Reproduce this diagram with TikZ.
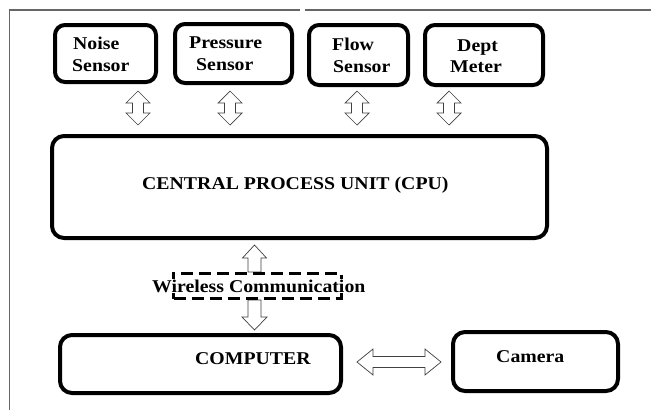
\documentclass[tikz,border=0pt]{standalone}
\usepackage{fontspec}
\setmainfont[FakeStretch=1.1]{Liberation Serif}
\usetikzlibrary{calc}
\begin{document}
\begin{tikzpicture}[x=1pt,y=-1pt,
  box/.style={draw=black, line width=4pt, rounded corners=11pt, inner sep=0pt, fill=white},
  dbox/.style={draw=black, line width=3pt, dash pattern=on 12pt off 6pt, inner sep=0pt},
  txt/.style={font=\fontsize{18}{21}\selectfont\bfseries, inner sep=0pt, anchor=base west},
  frame/.style={draw=black!60, line width=1.2pt},
  hollow/.style={draw=black!75, line width=0.7pt, fill=white},
  vdarrow/.style={hollow, to path={let \p1=(\tikztostart), \p2=(\tikztotarget) in
    (\x1,\y1) -- (\x1+12pt,\y1-12pt) -- (\x1+5.5pt,\y1-12pt) -- (\x1+5.5pt,\y2+12pt) -- (\x1+12pt,\y2+12pt)
    -- (\x1,\y2) -- (\x1-12pt,\y2+12pt) -- (\x1-5.5pt,\y2+12pt) -- (\x1-5.5pt,\y1-12pt) -- (\x1-12pt,\y1-12pt) -- cycle}},
  uparrow/.style={hollow, to path={let \p1=(\tikztostart), \p2=(\tikztotarget) in
    (\x1,\y1) -- (\x1+12pt,\y1-13pt) -- (\x1+6.5pt,\y1-13pt) -- (\x1+6.5pt,\y2) -- (\x1-6.5pt,\y2)
    -- (\x1-6.5pt,\y1-13pt) -- (\x1-12pt,\y1-13pt) -- cycle}},
  downarrow/.style={hollow, to path={let \p1=(\tikztostart), \p2=(\tikztotarget) in
    (\x1-6.5pt,\y1) -- (\x1+6.5pt,\y1) -- (\x1+6.5pt,\y2+13pt) -- (\x1+12.5pt,\y2+13pt) -- (\x2,\y2)
    -- (\x1-12.5pt,\y2+13pt) -- (\x1-6.5pt,\y2+13pt) -- cycle}},
  hdarrow/.style={hollow, to path={let \p1=(\tikztostart), \p2=(\tikztotarget) in
    (\x1,\y1) -- (\x1+16pt,\y1+13pt) -- (\x1+16pt,\y1+5.5pt) -- (\x2-16pt,\y1+5.5pt) -- (\x2-16pt,\y1+13pt)
    -- (\x2,\y2) -- (\x2-16pt,\y1-13pt) -- (\x2-16pt,\y1-5.5pt) -- (\x1+16pt,\y1-5.5pt) -- (\x1+16pt,\y1-13pt) -- cycle}}
]
\path[use as bounding box, fill=white] (0,0) rectangle (651,410);

% frame
\coordinate (f1) at (9.5,410);
\coordinate (f2) at (9.5,10);
\coordinate (f3) at (300,10);
\coordinate (f4) at (305,10);
\coordinate (f5) at (651,10);
\draw[frame] (f1) -- (f2) -- (f3);
\draw[frame] (f4) -- (f5);

% sensor boxes
\node[box, rounded corners=10pt, minimum width=101pt, minimum height=57pt] (noise) at (105.5,53.5) {};
\node[box, rounded corners=10pt, minimum width=117pt, minimum height=59pt] (pressure) at (233.5,53.5) {};
\node[box, rounded corners=10pt, minimum width=99pt, minimum height=60pt] (flow) at (358.5,55) {};
\node[box, rounded corners=10pt, minimum width=118pt, minimum height=60pt] (dept) at (484,55) {};

\node[txt] (noiseA) at (73,49) {Noise};
\node[txt] (noiseB) at (72,71) {Sensor};
\node[txt] (pressA) at (189,48) {Pressure};
\node[txt] (pressB) at (196,70) {Sensor};
\node[txt] (flowA) at (332,50) {Flow};
\node[txt] (flowB) at (333,72) {Sensor};
\node[txt] (deptA) at (457,51) {Dept};
\node[txt] (deptB) at (450,72) {Meter};

% CPU
\node[box, rounded corners=12pt, minimum width=495pt, minimum height=102pt] (cpu) at (299.5,187) {};
\node[txt] (cpuT) at (142,189) {CENTRAL PROCESS UNIT (CPU)};

% sensor arrows
\coordinate (a1t) at (138,91); \coordinate (a1b) at (138,125);
\coordinate (a2t) at (230,91); \coordinate (a2b) at (230,125);
\coordinate (a3t) at (357,91); \coordinate (a3b) at (357,125);
\coordinate (a4t) at (449,91); \coordinate (a4b) at (449,125);
\draw[vdarrow] (a1t) to (a1b);
\draw[vdarrow] (a2t) to (a2b);
\draw[vdarrow] (a3t) to (a3b);
\draw[vdarrow] (a4t) to (a4b);

% wireless
\coordinate (w1t) at (254.5,245); \coordinate (w1b) at (254.5,272);
\coordinate (w2t) at (254.5,300); \coordinate (w2b) at (254.5,330);
\draw[uparrow] (w1t) to (w1b);
\draw[downarrow] (w2t) to (w2b);
\node[dbox, minimum width=168pt, minimum height=25pt] (wire) at (257.5,286) {};
\node[txt, fill=white, inner ysep=1pt] (wireT) at (152,292) {Wireless Communication};

% computer and camera
\node[box, rounded corners=12pt, minimum width=281pt, minimum height=58pt] (comp) at (200.5,364) {};
\node[txt] (compT) at (195,364) {COMPUTER};
\node[box, rounded corners=12pt, minimum width=165pt, minimum height=59pt] (cam) at (535.5,361.5) {};
\node[txt] (camT) at (496,362) {Camera};

\coordinate (hl) at (357,362); \coordinate (hr) at (441,362);
\draw[hdarrow] (hl) to (hr);
\end{tikzpicture}
\end{document}
